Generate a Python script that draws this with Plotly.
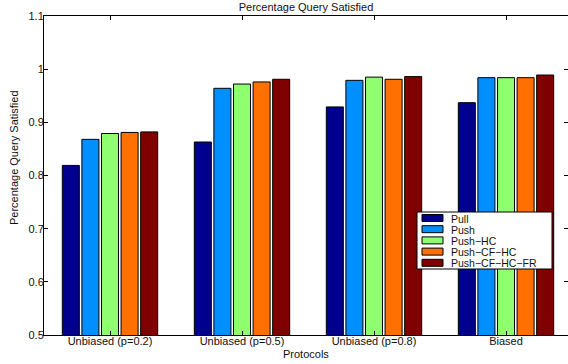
import plotly.graph_objects as go

# Protocol groups on the x axis
categories = ["Unbiased (p=0.2)", "Unbiased (p=0.5)", "Unbiased (p=0.8)", "Biased"]

# Fraction of queries satisfied per protocol variant
series_names = ["Pull", "Push", "Push\u2212HC", "Push\u2212CF\u2212HC", "Push\u2212CF\u2212HC\u2212FR"]
pull = [0.819, 0.863, 0.929, 0.937]
push = [0.868, 0.964, 0.979, 0.984]
push_hc = [0.879, 0.972, 0.985, 0.984]
push_cf_hc = [0.881, 0.976, 0.981, 0.984]
push_cf_hc_fr = [0.882, 0.981, 0.986, 0.989]
series_values = [pull, push, push_hc, push_cf_hc, push_cf_hc_fr]

y_ticks = [0.5, 0.6, 0.7, 0.8, 0.9, 1.0, 1.1]
y_tick_labels = ["0.5", "0.6", "0.7", "0.8", "0.9", "1", "1.1"]

colors = ["#00008F", "#008FFF", "#8FFF70", "#FF7000", "#800000"]

FONT = "Liberation Sans, Arial, Helvetica, sans-serif"
TXT = "#111111"
W, H = 568, 364
L, T, B, R = 44, 16, 29, 0
PW, PH = W - L - R, H - T - B


def px_x(x):
    return (x - L) / PW


def px_y(y):
    return 1 - (y - T) / PH


fig = go.Figure()
for name, vals, col in zip(series_names, series_values, colors):
    fig.add_trace(go.Bar(
        x=categories, y=vals, name=name,
        marker=dict(color=col, line=dict(color="black", width=1)),
        showlegend=False,
    ))

# Compact boxed legend inside the axes
shapes = [dict(type="rect", xref="paper", yref="paper",
               x0=px_x(417), x1=px_x(552), y0=px_y(269), y1=px_y(212),
               line=dict(color="black", width=1), fillcolor="white", layer="above")]
annotations = []
for i, (name, col) in enumerate(zip(series_names, colors)):
    yc = 218 + i * 11.2
    shapes.append(dict(type="rect", xref="paper", yref="paper",
                       x0=px_x(422), x1=px_x(443), y0=px_y(yc + 3.5), y1=px_y(yc - 3.5),
                       line=dict(color="black", width=1), fillcolor=col, layer="above"))
    annotations.append(dict(xref="paper", yref="paper", x=px_x(449), y=px_y(yc + 0.5),
                            text=name, showarrow=False, xanchor="left", yanchor="middle",
                            font=dict(family=FONT, size=10.5, color=TXT)))

# Axis titles
annotations.append(dict(xref="paper", yref="paper", x=0.5, y=px_y(354),
                        text="Protocols", showarrow=False, xanchor="center", yanchor="middle",
                        font=dict(family=FONT, size=11, color=TXT)))
annotations.append(dict(xref="paper", yref="paper", x=px_x(14), y=px_y(158),
                        text="Percentage Query Satisfied", showarrow=False, textangle=-90,
                        xanchor="center", yanchor="middle",
                        font=dict(family=FONT, size=11, color=TXT)))

fig.update_layout(
    width=W, height=H,
    margin=dict(l=L, r=R, t=T, b=B, pad=0),
    paper_bgcolor="white", plot_bgcolor="white",
    barmode="group", bargap=0.258, bargroupgap=0.13,
    font=dict(family=FONT, size=11, color=TXT),
    title=dict(text="Percentage Query Satisfied", x=0.5, xref="paper",
               y=1 - 7 / H, yref="container", xanchor="center", yanchor="middle",
               font=dict(family=FONT, size=11, color=TXT)),
    shapes=shapes, annotations=annotations,
    xaxis=dict(range=[-0.5, 3.5 - 4 / 132], showline=True, linecolor="black", linewidth=1,
               mirror="ticks", ticks="inside", ticklen=4, tickcolor="black",
               ticklabelstandoff=-4,
               showgrid=False, zeroline=False, tickfont=dict(size=11)),
    yaxis=dict(range=[0.5, 1.1], tickvals=y_ticks, ticktext=y_tick_labels,
               showline=True, linecolor="black", linewidth=1, mirror="ticks",
               ticks="inside", ticklen=4, tickcolor="black",
               ticklabelstandoff=-3,
               showgrid=False, zeroline=False, tickfont=dict(size=11)),
)

fig.write_html("out.html")
